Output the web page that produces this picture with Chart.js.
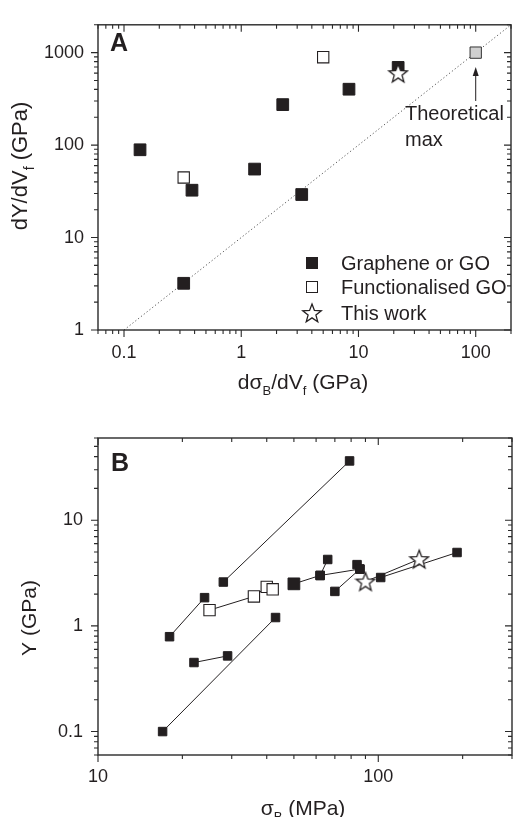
<!DOCTYPE html>
<html>
<head>
<meta charset="utf-8">
<script src="https://cdn.jsdelivr.net/npm/chart.js@4.4.0/dist/chart.umd.min.js"></script>
<style>
  body { margin: 0; background: #fff; }
  canvas { position: absolute; left: 0; }
  #chartA { top: 0; }
  #chartB { top: 408px; }
</style>
</head>
<body>
<canvas id="chartA" width="523" height="408"></canvas>
<canvas id="chartB" width="523" height="409"></canvas>
<script>
// ---- panel A: dY/dVf vs dsigma/dVf ----
const aGraphene = [[0.137, 89], [0.38, 32.5], [0.323, 3.2], [1.3, 55], [2.26, 274], [3.28, 29.2], [8.3, 402], [21.8, 692]];
const aFunctional = [[0.323, 44.6], [5.0, 893]];
const aThisWork = [[21.8, 600]];
const aTheoretical = [[100, 1000]];
const aLimitLine = [[0.1, 1], [200, 2000]];   // Y = 10 * sigma
const aArrow = [[100, 300], [100, 700]];
const aXLabels = [0.1, 1, 10, 100];
const aYLabels = [1, 10, 100, 1000];
const legendLabels = ["Graphene or GO", "Functionalised GO", "This work"];

// ---- panel B: Y vs sigma_B ----
const bLine1 = [[17, 0.1], [43, 1.2]];
const bLine2 = [[18, 0.79], [24, 1.85]];
const bLine3 = [[28, 2.6], [79, 36.4]];
const bLine4 = [[22, 0.45], [29, 0.52]];
const bOpen = [[25, 1.41], [36, 1.9], [40, 2.34], [42, 2.22]];
const bLine6 = [[50, 2.5], [62, 3.0], [86, 3.45]];
const bLine7 = [[62, 3.0], [66, 4.25]];
const bLine8 = [[70, 2.12], [86, 3.45]];
const bExtra = [[84, 3.8]];
const bLine9 = [[102, 2.87], [191, 4.95]];
const bStars = [[90, 2.63], [140, 4.28]];
const bXLabels = [10, 100];
const bYLabels = [0.1, 1, 10];

const FONT = "'Liberation Sans', Arial, sans-serif";
const INK = "#231f20";

const pts = arr => arr.map(p => ({ x: p[0], y: p[1] }));

function starImage(size) {
  const c = document.createElement("canvas");
  c.width = c.height = size;
  const g = c.getContext("2d");
  const R = size / 2 - 1.2, r = R * 0.42, cy = size / 2 + R * 0.08;
  g.beginPath();
  for (let i = 0; i < 10; i++) {
    const a = -Math.PI / 2 + i * Math.PI / 5;
    const rad = i % 2 ? r : R;
    g.lineTo(size / 2 + rad * Math.cos(a), cy + rad * Math.sin(a));
  }
  g.closePath();
  g.fillStyle = "#fff";
  g.fill();
  g.strokeStyle = INK;
  g.lineWidth = 1.3;
  g.lineJoin = "miter";
  g.stroke();
  return c;
}
const star = starImage(22);

function tickValues(min, max) {
  const out = [];
  for (let k = Math.floor(Math.log10(min)); k <= Math.ceil(Math.log10(max)); k++) {
    for (let m = 1; m < 10; m++) {
      const v = parseFloat((m * Math.pow(10, k)).toPrecision(6));
      if (v >= min * 0.999 && v <= max * 1.001) out.push(v);
    }
  }
  return out;
}
const isLabel = (labels, v) => labels.some(l => Math.abs(l - v) / l < 1e-6);

function logAxis(min, max, labels, pad, fit) {
  return {
    type: "logarithmic", min: min, max: max,
    grid: { display: false, drawTicks: false },
    border: { display: false },
    afterBuildTicks: s => { s.ticks = tickValues(min, max).map(v => ({ value: v })); },
    afterFit: fit,
    ticks: {
      autoSkip: false, maxRotation: 0, padding: pad, color: INK,
      font: { family: FONT, size: 18 },
      callback: v => isLabel(labels, v) ? String(v) : ""
    }
  };
}

function richText(ctx, parts, x, y, size, rotate) {
  ctx.save();
  ctx.translate(x, y);
  if (rotate) ctx.rotate(-Math.PI / 2);
  ctx.fillStyle = INK;
  ctx.textBaseline = "middle";
  const sub = Math.round(size * 0.62);
  let w = 0;
  parts.forEach(p => { ctx.font = (p.sub ? sub : size) + "px " + FONT; w += ctx.measureText(p.t).width; });
  let cx = -w / 2;
  parts.forEach(p => {
    ctx.font = (p.sub ? sub : size) + "px " + FONT;
    ctx.fillText(p.t, cx, p.sub ? size * 0.42 : 0);
    cx += ctx.measureText(p.t).width;
  });
  ctx.restore();
}

// frame with ticks: left/bottom outward, right/top mirrored inward
function framePlugin(xLabels, yLabels) {
  return {
    id: "frame",
    afterDatasetsDraw(chart) {
      const { ctx, chartArea: { left, right, top, bottom }, scales: { x, y } } = chart;
      ctx.save();
      ctx.strokeStyle = "#2a2a2a";
      ctx.lineWidth = 1.4;
      ctx.strokeRect(left, top, right - left, bottom - top);
      ctx.lineWidth = 1.1;
      ctx.beginPath();
      x.ticks.forEach(t => {
        const px = x.getPixelForValue(t.value), len = isLabel(xLabels, t.value) ? 7 : 4;
        ctx.moveTo(px, bottom); ctx.lineTo(px, bottom + len);
        ctx.moveTo(px, top); ctx.lineTo(px, top + len);
      });
      y.ticks.forEach(t => {
        const py = y.getPixelForValue(t.value), len = isLabel(yLabels, t.value) ? 7 : 4;
        ctx.moveTo(left, py); ctx.lineTo(left - len, py);
        ctx.moveTo(right, py); ctx.lineTo(right - len, py);
      });
      ctx.stroke();
      ctx.restore();
    }
  };
}

const common = {
  responsive: false,
  animation: false,
  events: [],
  plugins: { legend: { display: false }, tooltip: { enabled: false } }
};

// ---------------- chart A ----------------
const decorA = {
  id: "decorA",
  afterDraw(chart) {
    const { ctx, scales: { x, y } } = chart;
    ctx.save();
    ctx.fillStyle = INK;
    ctx.font = "bold 25px " + FONT;
    ctx.textBaseline = "middle";
    ctx.fillText("A", 110, 44);

    // arrow to theoretical max
    const ax = x.getPixelForValue(aArrow[0][0]);
    const y0 = y.getPixelForValue(aArrow[0][1]), y1 = y.getPixelForValue(aArrow[1][1]);
    ctx.strokeStyle = INK;
    ctx.lineWidth = 1;
    ctx.beginPath(); ctx.moveTo(ax, y0); ctx.lineTo(ax, y1 + 6); ctx.stroke();
    ctx.beginPath(); ctx.moveTo(ax, y1); ctx.lineTo(ax - 3, y1 + 9); ctx.lineTo(ax + 3, y1 + 9); ctx.closePath(); ctx.fill();

    ctx.font = "20px " + FONT;
    ctx.fillText("Theoretical", 405, 114);
    ctx.fillText("max", 405, 140);

    // legend
    const rows = [263, 287, 313];
    ctx.fillStyle = INK;
    ctx.fillRect(312 - 6, rows[0] - 6, 12, 12);
    ctx.fillStyle = "#fff";
    ctx.fillRect(312 - 5.5, rows[1] - 5.5, 11, 11);
    ctx.strokeRect(312 - 5.5, rows[1] - 5.5, 11, 11);
    ctx.drawImage(star, 312 - 11, rows[2] - 11);
    ctx.fillStyle = INK;
    legendLabels.forEach((t, i) => ctx.fillText(t, 341, rows[i] + 1));
    ctx.restore();

    richText(ctx, [{ t: "dY/dV" }, { t: "f", sub: true }, { t: " (GPa)" }], 21, 166, 22, true);
    richText(ctx, [{ t: "d\u03c3" }, { t: "B", sub: true }, { t: "/dV" }, { t: "f", sub: true }, { t: " (GPa)" }], 303, 383, 21, false);
  }
};

new Chart(document.getElementById("chartA"), {
  type: "scatter",
  data: {
    datasets: [
      { data: pts(aGraphene), pointStyle: "rect", pointRadius: 8.3, backgroundColor: INK, borderColor: INK, order: 2 },
      { data: pts(aFunctional), pointStyle: "rect", pointRadius: 8, backgroundColor: "#fff", borderColor: INK, borderWidth: 1.1, order: 1 },
      { data: pts(aThisWork), pointStyle: star, pointRadius: 9, order: 0 },
      { data: pts(aTheoretical), pointStyle: "rect", pointRadius: 8, backgroundColor: "#d0d0d0", borderColor: "#333", borderWidth: 1, order: 1 },
      { data: pts(aLimitLine), showLine: true, pointRadius: 0, borderColor: "#555", borderWidth: 1, borderDash: [1.2, 2.4], order: 5 }
    ]
  },
  options: Object.assign({}, common, {
    layout: { padding: { left: 0, right: 2, top: 13, bottom: 0 } },
    scales: {
      x: logAxis(0.06, 200, aXLabels, 12, s => { s.height = 78; }),
      y: logAxis(1, 2000, aYLabels, 14, s => { s.width = 98; })
    }
  }),
  plugins: [framePlugin(aXLabels, aYLabels), decorA]
});

// ---------------- chart B ----------------
const decorB = {
  id: "decorB",
  afterDraw(chart) {
    const { ctx } = chart;
    ctx.save();
    ctx.fillStyle = INK;
    ctx.font = "bold 25px " + FONT;
    ctx.textBaseline = "middle";
    ctx.fillText("B", 111, 56);
    ctx.restore();
    richText(ctx, [{ t: "Y (GPa)" }], 30, 210, 21, true);
    richText(ctx, [{ t: "\u03c3" }, { t: "B", sub: true }, { t: " (MPa)" }], 303, 401, 21, false);
  }
};

const filledLine = data => ({
  data: pts(data), showLine: true, borderColor: INK, borderWidth: 1,
  pointStyle: "rect", pointRadius: 6, pointBackgroundColor: INK, pointBorderColor: INK
});

const bDatasets = [bLine1, bLine2, bLine3, bLine4, bLine7, bLine8, bExtra, bLine9].map(filledLine);
const big = filledLine(bLine6);
big.pointRadius = c => c.dataIndex === 0 ? 8.3 : 6;
bDatasets.push(big);
bDatasets.push({
  data: pts(bOpen), showLine: true, borderColor: INK, borderWidth: 1,
  pointStyle: "rect", pointRadius: 8, pointBackgroundColor: "#fff", pointBorderColor: INK, pointBorderWidth: 1.1
});
bDatasets.push({
  data: pts(bStars), showLine: true, borderColor: INK, borderWidth: 1,
  pointStyle: star, pointRadius: 9, order: -1
});

new Chart(document.getElementById("chartB"), {
  type: "scatter",
  data: { datasets: bDatasets },
  options: Object.assign({}, common, {
    layout: { padding: { left: 0, right: 2, top: 30, bottom: 0 } },
    scales: {
      x: logAxis(10, 300, bXLabels, 11, s => { s.height = 62; }),
      y: logAxis(0.06, 60, bYLabels, 15, s => { s.width = 98; })
    }
  }),
  plugins: [framePlugin(bXLabels, bYLabels), decorB]
});
</script>
</body>
</html>
